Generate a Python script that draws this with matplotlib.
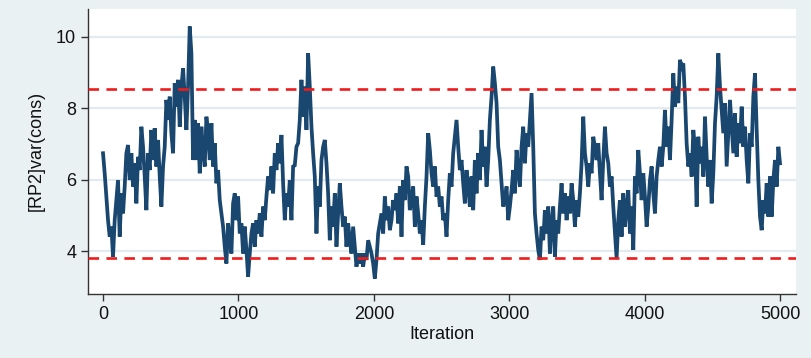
import numpy as np
import matplotlib.pyplot as plt

plt.rcParams['font.family'] = ['Liberation Sans', 'DejaVu Sans']

# MCMC trace of [RP2]var(cons), read in consecutive stretches of the chain
part1 = [6.74, 6.18, 5.53, 4.87, 4.41, 4.69, 3.85, 4.87, 5.43, 5.99,
         4.41, 5.62, 5.06, 5.81, 6.74, 6.97, 5.99, 6.74, 5.81, 6.46,
         5.34, 6.64, 6.27, 7.48, 6.92, 6.09, 5.15, 6.74, 6.27, 7.39,
         6.55, 7.44, 6.37, 7.11, 6.09, 5.25, 6.37, 6.92, 8.23, 7.67,
         8.32, 7.30, 6.74, 8.70, 8.04, 8.79, 7.48, 8.60, 9.11, 8.32,
         7.39, 8.60, 10.28, 9.53, 6.55]
part2 = [7.67, 6.55, 7.58, 6.18, 7.48, 6.74, 6.37, 7.76, 7.30, 6.55,
         7.58, 6.37, 7.02, 5.90, 6.27, 5.43, 5.06, 4.69, 4.13, 3.66,
         4.78, 4.31, 3.94, 5.34, 5.62, 4.87, 5.53, 4.50, 4.78, 3.94,
         4.69, 4.04, 3.29, 3.94, 4.50, 4.78, 4.13, 4.87, 4.50, 5.06,
         4.41, 5.25, 4.87, 5.53, 6.09, 5.71, 6.37, 5.62, 6.74, 6.27,
         7.02, 6.46, 7.25, 5.90, 4.87, 5.62, 5.25, 5.99, 4.87, 6.37]
part3 = [6.40, 6.92, 7.02, 7.67, 8.79, 7.76, 8.60, 7.39, 9.53, 8.60,
         7.48, 6.74, 6.09, 4.50, 5.81, 5.25, 6.55, 6.92, 7.11, 6.46,
         5.62, 4.31, 5.25, 4.69, 5.62, 4.13, 5.06, 5.90, 5.25, 4.69,
         4.97, 4.13, 4.78, 4.31, 3.94, 4.69, 4.13, 3.57, 3.94, 3.66,
         3.94, 3.57, 3.94, 3.76, 4.31, 4.13, 3.94, 3.66, 3.24, 3.76,
         4.50, 4.78, 5.06, 4.50, 5.53, 4.87, 5.25, 4.59, 4.87, 5.43]
part4 = [5.15, 5.62, 4.78, 5.81, 4.41, 5.99, 5.43, 6.37, 6.09, 5.15,
         5.43, 5.81, 4.69, 5.53, 5.06, 4.50, 4.87, 4.18, 5.25, 6.09,
         7.30, 6.83, 6.18, 5.81, 6.37, 5.53, 5.81, 5.25, 5.53, 4.87,
         5.06, 4.41, 5.43, 6.18, 5.81, 6.74, 7.20, 7.67, 6.92, 6.27,
         6.55, 5.90, 5.34, 6.27, 5.81, 5.25, 6.09, 5.15, 6.55, 5.62,
         6.74, 5.99, 7.39, 6.37, 6.92, 5.81, 6.55, 7.67, 8.32, 9.16]
part5 = [8.70, 8.14, 6.92, 6.55, 5.90, 5.25, 5.43, 5.81, 4.87, 5.25,
         5.71, 6.27, 5.62, 6.83, 6.27, 5.81, 6.92, 7.48, 6.46, 7.30,
         6.92, 7.67, 8.42, 6.92, 5.06, 4.50, 4.04, 3.76, 4.69, 4.31,
         5.15, 4.50, 5.25, 3.94, 4.78, 5.25, 3.85, 4.87, 4.50, 5.25,
         5.90, 5.06, 5.62, 4.87, 5.53, 5.06, 5.90, 5.43, 4.69, 5.43,
         4.97, 5.62, 6.46, 7.76, 6.74, 6.37, 5.81, 6.46, 6.18, 7.20]
part6 = [6.90, 6.55, 7.02, 6.18, 5.43, 6.55, 7.48, 6.74, 6.46, 5.81,
         6.09, 5.25, 4.50, 3.80, 4.87, 5.43, 4.41, 5.62, 4.69, 5.25,
         5.71, 4.50, 5.25, 4.04, 6.09, 5.62, 6.83, 6.18, 5.43, 6.18,
         5.53, 4.69, 5.25, 5.99, 6.37, 5.62, 5.06, 6.09, 6.55, 6.92,
         6.37, 6.92, 7.95, 6.92, 7.48, 6.55, 7.67, 8.97, 8.04, 8.60,
         8.14, 9.35, 9.16, 9.25, 8.32, 7.02, 6.37, 6.74, 6.09, 7.39]
part7 = [6.90, 5.25, 7.20, 6.46, 6.92, 6.09, 7.76, 6.64, 5.81, 6.55,
         5.34, 6.18, 7.58, 8.32, 9.53, 8.60, 7.95, 7.30, 8.14, 6.37,
         7.30, 8.23, 7.48, 6.74, 7.86, 6.64, 7.58, 7.02, 8.04, 6.92,
         7.48, 6.55, 5.90, 7.30, 6.92, 8.32, 8.97, 7.39, 5.99, 4.97,
         4.59, 5.43, 5.06, 5.90, 4.97, 6.09, 4.97, 5.99, 6.55, 5.81,
         6.92, 6.46]

# 95% interval of the draws
lower_bound = 3.80
upper_bound = 8.54

n_iter = 5000
x_ticks = [0, 1000, 2000, 3000, 4000, 5000]
y_ticks = [4, 6, 8, 10]

trace = np.concatenate([part1, part2, part3, part4, part5, part6, part7])
iteration = np.linspace(0, n_iter, len(trace))

bg = '#eaf1f3'
navy = '#1a476f'

fig = plt.figure(figsize=(8.11, 3.58), dpi=100, facecolor=bg)
ax = fig.add_axes([0.1085, 0.179, 0.873, 0.796])
ax.set_facecolor('white')

for y in y_ticks:
    ax.axhline(y, color='#e3ebee', lw=1.6, zorder=0)

ax.plot(iteration, trace, color=navy, lw=2.7, solid_joinstyle='miter',
        zorder=2)

for b in (lower_bound, upper_bound):
    ax.axhline(b, color='#f01c1c', lw=1.9, dashes=(4, 2.8), zorder=3)

ax.set_xlim(-111, 5118)
ax.set_ylim(2.81, 10.77)
ax.set_xticks(x_ticks)
ax.set_yticks(y_ticks)

for side in ('top', 'right'):
    ax.spines[side].set_visible(False)
for side in ('left', 'bottom'):
    ax.spines[side].set_color('#333333')
    ax.spines[side].set_linewidth(1.0)

ax.tick_params(direction='out', length=5, width=1.0, color='#333333',
               labelsize=13, labelcolor='#111111')
ax.set_xlabel('Iteration', fontsize=13, color='#111111', labelpad=2)
ax.set_ylabel('[RP2]var(cons)', fontsize=13, color='#111111', labelpad=8)

fig.savefig('out.png', dpi=100, facecolor=bg)
